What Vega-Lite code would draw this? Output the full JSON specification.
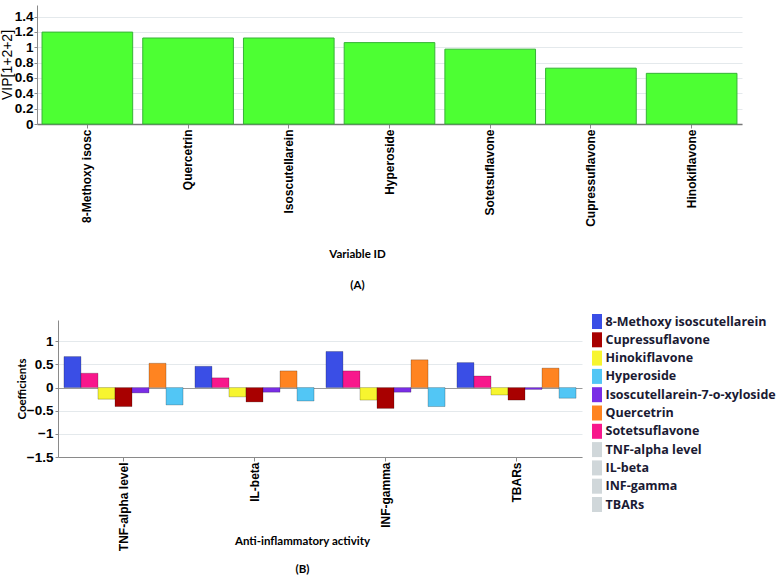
{
  "$schema": "https://vega.github.io/schema/vega-lite/v6.json",
  "padding": {"left": 0, "top": 5, "right": 0, "bottom": 0},
  "background": "white",
  "spacing": 23,
  "resolve": {"legend": {"color": "independent"}},
  "config": {
    "view": {"stroke": null},
    "axis": {"labelColor": "#000", "titleColor": "#000", "domainColor": "#8a8a8a", "tickColor": "#8a8a8a", "gridColor": "#e4e9ec", "labelFont": "Liberation Sans", "labelFontWeight": "bold", "titleFont": "Lato", "titleFontWeight": "bold", "titleFontSize": 11.5}
  },
  "vconcat": [
    {
      "width": 684,
      "height": 119,
      "data": {"values": [
        {"variable": "8-Methoxy isosc", "vip": 1.197},
        {"variable": "Quercetrin", "vip": 1.12},
        {"variable": "Isoscutellarein", "vip": 1.12},
        {"variable": "Hyperoside", "vip": 1.06},
        {"variable": "Sotetsuflavone", "vip": 0.975},
        {"variable": "Cupressuflavone", "vip": 0.727},
        {"variable": "Hinokiflavone", "vip": 0.66}
      ]},
      "mark": {"type": "bar", "fill": "#4dff33", "stroke": "#36b336", "strokeWidth": 1},
      "encoding": {
        "x": {"field": "variable", "type": "nominal", "sort": null,
          "scale": {"paddingInner": 0.1, "paddingOuter": 0.05, "range": [-21, 684]},
          "axis": {"title": ["Variable ID", "(A)"], "titleY": 124.5, "titleX": 299, "titleLineHeight": 31, "titleBaseline": "top",
            "labelAngle": -90, "labelFontSize": 12, "tickSize": 4, "labelPadding": 1, "grid": false, "domainWidth": 1.5, "domainColor": "#777"}},
        "y": {"field": "vip", "type": "quantitative",
          "scale": {"domain": [0, 1.55], "nice": false},
          "axis": {"values": [0, 0.2, 0.4, 0.6, 0.8, 1, 1.2, 1.4], "format": "~g", "title": "VIP[1+2+2]", "titleFont": "Liberation Sans", "titleFontWeight": "normal", "titleFontSize": 14,
            "offset": 21, "minExtent": 21, "maxExtent": 21, "titlePadding": 2, "labelFontSize": 13.5, "tickSize": 3, "labelPadding": 1, "labelFlush": false}}
      }
    },
    {
      "width": 524,
      "height": 137,
      "data": {"values": [
        {"activity": "TNF-alpha level", "compound": "8-Methoxy isoscutellarein", "coef": 0.67},
        {"activity": "TNF-alpha level", "compound": "Sotetsuflavone", "coef": 0.31},
        {"activity": "TNF-alpha level", "compound": "Hinokiflavone", "coef": -0.25},
        {"activity": "TNF-alpha level", "compound": "Cupressuflavone", "coef": -0.41},
        {"activity": "TNF-alpha level", "compound": "Isoscutellarein-7-o-xyloside", "coef": -0.115},
        {"activity": "TNF-alpha level", "compound": "Quercetrin", "coef": 0.525},
        {"activity": "TNF-alpha level", "compound": "Hyperoside", "coef": -0.375},
        {"activity": "IL-beta", "compound": "8-Methoxy isoscutellarein", "coef": 0.46},
        {"activity": "IL-beta", "compound": "Sotetsuflavone", "coef": 0.21},
        {"activity": "IL-beta", "compound": "Hinokiflavone", "coef": -0.2},
        {"activity": "IL-beta", "compound": "Cupressuflavone", "coef": -0.31},
        {"activity": "IL-beta", "compound": "Isoscutellarein-7-o-xyloside", "coef": -0.1},
        {"activity": "IL-beta", "compound": "Quercetrin", "coef": 0.36},
        {"activity": "IL-beta", "compound": "Hyperoside", "coef": -0.29},
        {"activity": "INF-gamma", "compound": "8-Methoxy isoscutellarein", "coef": 0.78},
        {"activity": "INF-gamma", "compound": "Sotetsuflavone", "coef": 0.36},
        {"activity": "INF-gamma", "compound": "Hinokiflavone", "coef": -0.27},
        {"activity": "INF-gamma", "compound": "Cupressuflavone", "coef": -0.45},
        {"activity": "INF-gamma", "compound": "Isoscutellarein-7-o-xyloside", "coef": -0.1},
        {"activity": "INF-gamma", "compound": "Quercetrin", "coef": 0.6},
        {"activity": "INF-gamma", "compound": "Hyperoside", "coef": -0.41},
        {"activity": "TBARs", "compound": "8-Methoxy isoscutellarein", "coef": 0.54},
        {"activity": "TBARs", "compound": "Sotetsuflavone", "coef": 0.25},
        {"activity": "TBARs", "compound": "Hinokiflavone", "coef": -0.16},
        {"activity": "TBARs", "compound": "Cupressuflavone", "coef": -0.27},
        {"activity": "TBARs", "compound": "Isoscutellarein-7-o-xyloside", "coef": -0.04},
        {"activity": "TBARs", "compound": "Quercetrin", "coef": 0.42},
        {"activity": "TBARs", "compound": "Hyperoside", "coef": -0.23}
      ]},
      "mark": {"type": "bar", "stroke": "#000", "strokeOpacity": 0.22, "strokeWidth": 1},
      "encoding": {
        "x": {"field": "activity", "type": "nominal", "sort": ["TNF-alpha level", "IL-beta", "INF-gamma", "TBARs"],
          "scale": {"paddingInner": 0, "paddingOuter": 0},
          "axis": {"title": ["Anti-inflammatory activity", "(B)"], "titleY": 78, "titleX": 244, "titleLineHeight": 28, "titleBaseline": "top",
            "labelAngle": -90, "labelFontSize": 12, "tickSize": 4, "labelPadding": 1, "grid": false}},
        "xOffset": {"field": "compound", "type": "nominal",
          "sort": ["8-Methoxy isoscutellarein", "Sotetsuflavone", "Hinokiflavone", "Cupressuflavone", "Isoscutellarein-7-o-xyloside", "Quercetrin", "Hyperoside"],
          "scale": {"paddingInner": 0, "paddingOuter": 0.35}},
        "y": {"field": "coef", "type": "quantitative",
          "scale": {"domain": [-1.5, 1.46], "nice": false, "zero": false},
          "axis": {"values": [-1.5, -1, -0.5, 0, 0.5, 1], "format": "~g", "title": "Coefficients",
            "minExtent": 29, "maxExtent": 29, "titlePadding": 2, "labelFontSize": 13.5, "tickSize": 3, "labelPadding": 2, "labelFlush": false,
            "gridColor": {"condition": {"test": "datum.value === 0", "value": "#9a9a9a"}, "value": "#e4e9ec"}}},
        "color": {"field": "compound", "type": "nominal",
          "scale": {
            "domain": ["8-Methoxy isoscutellarein", "Cupressuflavone", "Hinokiflavone", "Hyperoside", "Isoscutellarein-7-o-xyloside", "Quercetrin", "Sotetsuflavone", "TNF-alpha level", "IL-beta", "INF-gamma", "TBARs"],
            "range": ["#3a4ee6", "#a80000", "#f7f52f", "#52c6f5", "#7a2de6", "#ff8421", "#f8178c", "#d0d7da", "#d0d7da", "#d0d7da", "#d0d7da"]},
          "legend": {"orient": "none", "legendX": 531.5, "legendY": -6, "title": null, "padding": 0,
            "symbolType": "M-0.667,-1H0.667V1H-0.667Z", "symbolSize": 225, "symbolStrokeWidth": 0,
            "labelFont": "Open Sans", "labelFontWeight": "bold", "labelFontSize": 12.5, "labelColor": "#1a1a33",
            "rowPadding": 3.3, "labelOffset": 1, "labelLimit": 250}}
      }
    }
  ]
}
